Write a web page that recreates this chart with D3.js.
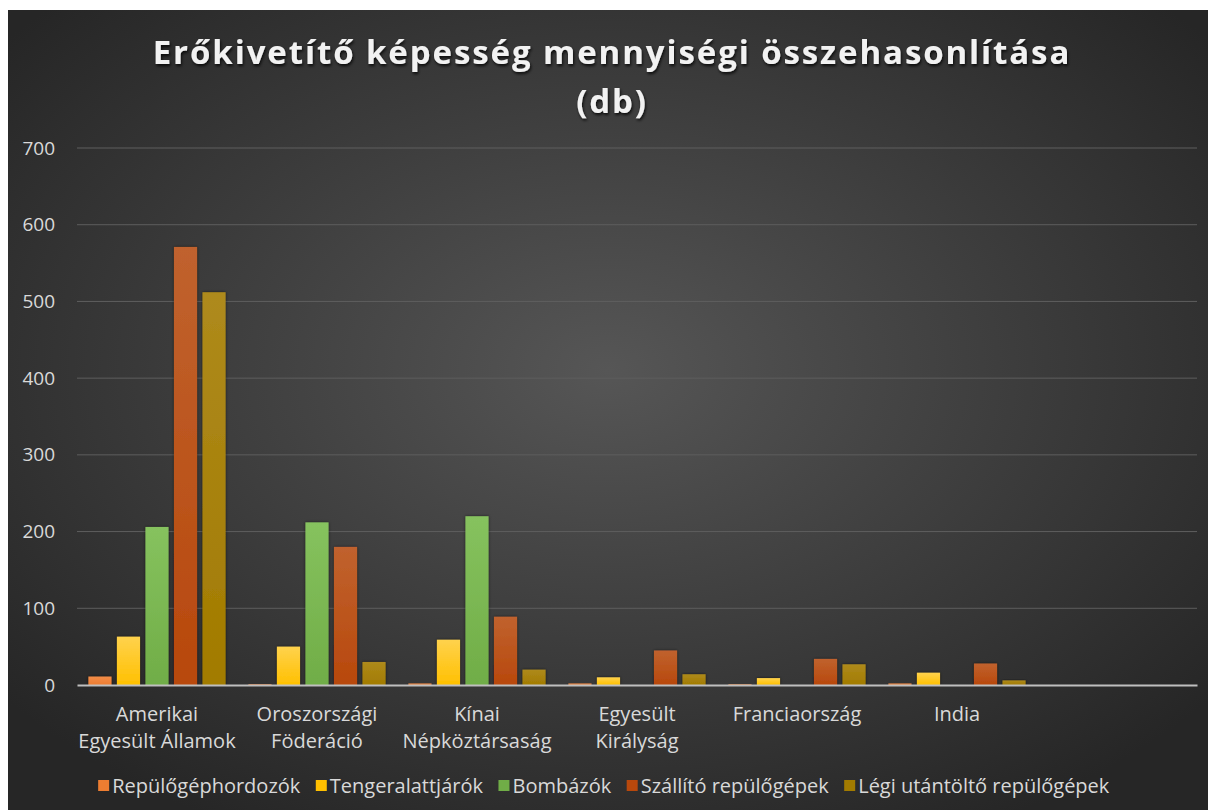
<!DOCTYPE html>
<html>
<head>
<meta charset="utf-8">
<script src="https://cdn.jsdelivr.net/npm/d3@7"></script>
<style>
  body { margin: 0; background: #fff; }
  svg text { font-family: "Open Sans", "DejaVu Sans", sans-serif; }
</style>
</head>
<body>
<div id="chart"></div>
<script>
// data
var categories = ["Amerikai|Egyesült Államok", "Oroszországi|Föderáció", "Kínai|Népköztársaság", "Egyesült|Királyság", "Franciaország", "India", ""];
var seriesNames = ["Repülőgéphordozók", "Tengeralattjárók", "Bombázók", "Szállító repülőgépek", "Légi utántöltő repülőgépek"];
var carriers   = [11, 1, 2, 2, 1, 2, null];
var submarines = [63, 50, 59, 10, 9, 16, null];
var bombers    = [206, 212, 220, 0, 0, 0, null];
var transports = [571, 180, 89, 45, 34, 28, null];
var tankers    = [512, 30, 20, 14, 27, 6, null];
var yTicks = [0, 100, 200, 300, 400, 500, 600, 700];

var colors = ["#ed7d31", "#ffc000", "#70ad47", "#b8480c", "#a27b00"];
var lightColors = ["#f28c48", "#ffd24d", "#86c25e", "#c0622e", "#ae8a1c"];

var values = [carriers, submarines, bombers, transports, tankers];

var W = 1208, H = 810;
var margin = {left: 77, right: 11, top: 148, bottom: 125};

var svg = d3.select("#chart").append("svg")
  .attr("width", W)
  .attr("height", H);

var defs = svg.append("defs");
var bg = defs.append("radialGradient").attr("id", "bg")
  .attr("cx", "50%").attr("cy", "45%").attr("r", "65%");
bg.append("stop").attr("offset", "0%").attr("stop-color", "#565656");
bg.append("stop").attr("offset", "100%").attr("stop-color", "#262626");

colors.forEach(function(c, i) {
  var g = defs.append("linearGradient").attr("id", "bar" + i)
    .attr("x1", 0).attr("y1", 0).attr("x2", 0).attr("y2", 1);
  g.append("stop").attr("offset", "0%").attr("stop-color", lightColors[i]);
  g.append("stop").attr("offset", "100%").attr("stop-color", c);
});

var shadow = defs.append("filter").attr("id", "shadow")
  .attr("x", "-20%").attr("y", "-20%").attr("width", "140%").attr("height", "140%");
shadow.append("feDropShadow").attr("dx", 0).attr("dy", 0).attr("stdDeviation", 1.5)
  .attr("flood-color", "#000").attr("flood-opacity", 0.6);

var tshadow = defs.append("filter").attr("id", "tshadow")
  .attr("x", "-10%").attr("y", "-30%").attr("width", "120%").attr("height", "160%");
tshadow.append("feDropShadow").attr("dx", 1).attr("dy", 2).attr("stdDeviation", 1.5)
  .attr("flood-color", "#000").attr("flood-opacity", 0.8);

// background
svg.append("rect")
  .attr("x", 8).attr("y", 10)
  .attr("width", W - 8).attr("height", H - 10)
  .attr("fill", "url(#bg)");

// title
var title = svg.append("text")
  .attr("x", 612)
  .attr("text-anchor", "middle")
  .attr("fill", "#f2f2f2")
  .attr("font-size", 33)
  .attr("font-weight", "bold")
  .attr("letter-spacing", 1.9)
  .attr("filter", "url(#tshadow)");
title.append("tspan").attr("x", 612).attr("y", 64).text("Erőkivetítő képesség mennyiségi összehasonlítása");
title.append("tspan").attr("x", 612).attr("y", 113).text("(db)");

// scales
var x0 = d3.scaleBand()
  .domain(d3.range(categories.length))
  .range([margin.left, W - margin.right]);

var x1 = d3.scaleBand()
  .domain(d3.range(seriesNames.length))
  .range([0, x0.bandwidth()])
  .paddingInner(0.19)
  .paddingOuter(0.4);

var y = d3.scaleLinear()
  .domain([0, 700])
  .range([H - margin.bottom, margin.top]);

// gridlines
svg.append("g")
  .selectAll("line")
  .data(yTicks.slice(1))
  .enter().append("line")
  .attr("x1", margin.left).attr("x2", W - margin.right)
  .attr("y1", function(d) { return y(d); })
  .attr("y2", function(d) { return y(d); })
  .attr("stroke", "#5e5e5e")
  .attr("stroke-width", 1);

// y axis labels
var yAxis = d3.axisLeft(y).tickValues(yTicks).tickSize(0).tickPadding(22);
var yg = svg.append("g")
  .attr("transform", "translate(" + margin.left + ",0)")
  .call(yAxis);
yg.select(".domain").remove();
yg.selectAll("text")
  .attr("fill", "#d9d9d9")
  .attr("font-size", 19);

// bars
var groups = svg.append("g")
  .selectAll("g")
  .data(categories)
  .enter().append("g")
  .attr("transform", function(d, i) { return "translate(" + x0(i) + ",0)"; });

groups.selectAll("rect")
  .data(function(d, i) {
    return values.map(function(s, j) { return {s: j, v: s[i]}; }).filter(function(e) { return e.v != null && e.v > 0; });
  })
  .enter().append("rect")
  .attr("x", function(d) { return x1(d.s); })
  .attr("width", x1.bandwidth())
  .attr("y", function(d) { return y(d.v); })
  .attr("height", function(d) { return y(0) - y(d.v); })
  .attr("fill", function(d) { return "url(#bar" + d.s + ")"; })
  .attr("filter", "url(#shadow)");

// x axis
var xAxis = d3.axisBottom(x0).tickSize(0).tickFormat("");
var xg = svg.append("g")
  .attr("transform", "translate(0," + y(0) + ")")
  .call(xAxis);
xg.select(".domain").attr("stroke", "#bfbfbf").attr("stroke-width", 2);

// category labels
svg.append("g")
  .selectAll("text")
  .data(categories)
  .enter().append("text")
  .attr("text-anchor", "middle")
  .attr("fill", "#d9d9d9")
  .attr("font-size", 20)
  .each(function(d, i) {
    var lines = d.split("|");
    var t = d3.select(this);
    lines.forEach(function(l, k) {
      t.append("tspan")
        .attr("x", x0(i) + x0.bandwidth() / 2)
        .attr("y", 721 + k * 27)
        .text(l);
    });
  });

// legend
var legend = svg.append("g");
var items = legend.selectAll("g")
  .data(seriesNames)
  .enter().append("g");
items.append("rect")
  .attr("width", 11).attr("height", 11)
  .attr("y", -6)
  .attr("fill", function(d, i) { return colors[i]; });
items.append("text")
  .attr("x", 14)
  .attr("dy", "0.35em")
  .attr("fill", "#d9d9d9")
  .attr("font-size", 20)
  .text(function(d) { return d; });

var pos = 0, gap = 15, widths = [];
items.each(function() { widths.push(this.getBBox().width); });
var total = d3.sum(widths) + gap * (widths.length - 1);
var start = 604 - total / 2;
items.attr("transform", function(d, i) {
  var xx = start + pos;
  pos += widths[i] + gap;
  return "translate(" + xx + ",786)";
});
</script>
</body>
</html>
